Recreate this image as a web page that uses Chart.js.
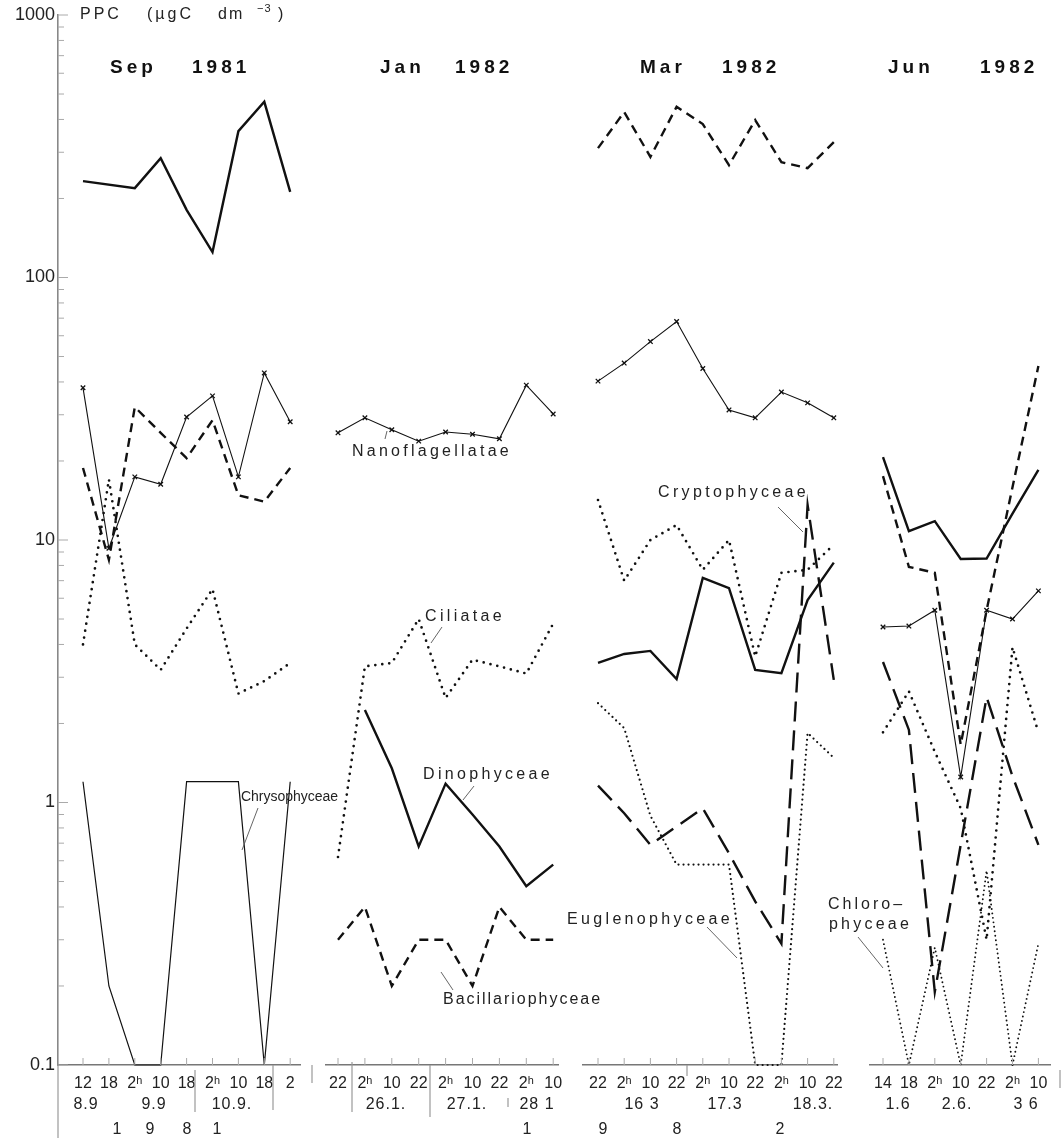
<!DOCTYPE html>
<html><head><meta charset="utf-8">
<script src="https://cdn.jsdelivr.net/npm/chart.js@4.4.1/dist/chart.umd.min.js"></script>
<style>
html,body{margin:0;padding:0;background:#fff;}
#wrap{position:relative;width:1063px;height:1141px;overflow:hidden;background:#fff;}
canvas{position:absolute;top:0;left:0;display:block;}
</style></head><body><div id="wrap">
<canvas id="c0" width="1063" height="1141"></canvas>
<canvas id="c1" width="1063" height="1141"></canvas>
<canvas id="c2" width="1063" height="1141"></canvas>
<canvas id="c3" width="1063" height="1141"></canvas>
</div>
<script>
// ---------- DATA (PPC, µgC dm-3) ----------
const sepLabels = ['12','18','2ʰ','10','18','2ʰ','10','18','2'];
const sepSolid   = [233, null, 219, 285, 181, 125, 361, 467, 212];
const sepNano    = [38, 9.3, 17.4, 16.3, 29.4, 35.4, 17.4, 43.3, 28.2];
const sepDash    = [18.8, 8.4, 32.1, 25.6, 20.5, 28.6, 14.8, 14.0, 18.8];
const sepCiliat  = [4.0, 17, 4.0, 3.2, 4.6, 6.5, 2.6, 2.9, 3.4];
const sepChryso  = [1.2, 0.2, 0.1, 0.1, 1.2, 1.2, 1.2, 0.1, 1.2];

const janLabels = ['22','2ʰ','10','22','2ʰ','10','22','2ʰ','10'];
const janNano    = [25.6, 29.2, 26.3, 23.8, 25.8, 25.3, 24.3, 38.9, 30.2];
const janCiliat  = [0.62, 3.3, 3.4, 5.0, 2.5, 3.5, 3.3, 3.1, 4.8];
const janDino    = [null, 2.25, 1.35, 0.68, 1.18, 0.9, 0.68, 0.48, 0.58];
const janBacil   = [0.3, 0.4, 0.2, 0.3, 0.3, 0.2, 0.4, 0.3, 0.3];

const marLabels = ['22','2ʰ','10','22','2ʰ','10','22','2ʰ','10','22'];
const marBacil   = [311, 427, 288, 447, 384, 268, 398, 275, 261, 328];
const marNano    = [40.3, 47.2, 57, 68, 45, 31.3, 29.2, 36.6, 33.3, 29.2];
const marCiliat  = [14.2, 7.0, 10, 11.4, 7.7, 10, 3.6, 7.5, 7.7, 9.6];
const marDino    = [3.4, 3.68, 3.78, 2.95, 7.17, 6.56, 3.2, 3.11, 5.9, 8.2];
const marCrypto  = [1.16, 0.91, 0.69, 0.81, 0.95, 0.64, 0.42, 0.29, 13.6, 2.93];
const marEugl    = [2.39, 1.92, 0.89, 0.58, 0.58, 0.58, 0.1, 0.1, 1.84, 1.48];

const junLabels = ['14','18','2ʰ','10','22','2ʰ','10'];
const junDino    = [20.7, 10.8, 11.8, 8.47, 8.5, 12.6, 18.5];
const junBacil   = [17.5, 7.9, 7.5, 1.66, 5.4, 15.9, 46];
const junNano    = [4.66, 4.7, 5.4, 1.25, 5.4, 5.0, 6.4];
const junCrypto  = [3.43, 1.89, 0.19, 0.69, 2.52, 1.26, 0.69];
const junCiliat  = [1.85, 2.65, 1.56, 0.95, 0.3, 3.9, 1.85];
const junChloro  = [0.3, 0.1, 0.28, 0.1, 0.55, 0.1, 0.29];

const yMajor = [0.1, 1, 10, 100, 1000];

// ---------- STYLES ----------
const FONT = '"Liberation Sans", Arial, Helvetica, sans-serif';
const INK = '#111';
const W = 1063;
const ST = {
  solid: {borderWidth:2.4},
  thin:  {borderWidth:1.2},
  nano:  {borderWidth:1.1, pointRadius:3.2, pointStyle:'crossRot', pointBorderWidth:1.3},
  dash:  {borderWidth:2.4, borderDash:[9,6]},
  long:  {borderWidth:2.4, borderDash:[20,9]},
  dot:   {borderWidth:2.7, borderDash:[0,7], borderCapStyle:'round'},
  fine:  {borderWidth:2.2, borderDash:[0,5], borderCapStyle:'round'},
  chl:   {borderWidth:1.9, borderDash:[0,4.5], borderCapStyle:'round'}
};

// notes: text, left x, right x (fitted width), centre y, font size, leader line
const panels = [
  {id:'c0', L:58,  R:300,  P0:83,  d:25.9, labels:sepLabels, yaxis:true,
   series:[[sepSolid,'solid'],[sepNano,'nano'],[sepDash,'dash'],[sepCiliat,'dot'],[sepChryso,'thin']],
   title:[['Sep',110],['1981',192]],
   dates:[['8.9',86],['9.9',154],['10.9.',232]],
   year:[['1',117],['9',150],['8',187],['1',217]],
   seps:[[58,1065,1138],[195,1070,1112],[273,1065,1110],[312,1065,1083]],
   notes:[{t:'Chrysophyceae',x:241,x2:338,y:797,fs:14,l:[258,808,242,850]}]},
  {id:'c1', L:326, R:558,  P0:338, d:26.9, labels:janLabels,
   series:[[janNano,'nano'],[janCiliat,'dot'],[janDino,'solid'],[janBacil,'dash']],
   title:[['Jan',380],['1982',455]],
   dates:[['26.1.',386],['27.1.',467],['28 1',537]],
   year:[['1',527]],
   seps:[[352,1062,1112],[430,1065,1117],[508,1098,1107]],
   notes:[{t:'Nanoflagellatae',x:352,x2:512,y:452,l:[387,431,385,439]},
          {t:'Ciliatae',x:425,x2:505,y:617,l:[442,627,431,643]},
          {t:'Dinophyceae',x:423,x2:553,y:775,l:[474,786,463,800]},
          {t:'Bacillariophyceae',x:443,x2:602,y:1000,l:[453,990,441,972]}]},
  {id:'c2', L:583, R:837,  P0:598, d:26.2, labels:marLabels,
   series:[[marBacil,'dash'],[marNano,'nano'],[marCiliat,'dot'],[marDino,'solid'],[marCrypto,'long'],[marEugl,'fine']],
   title:[['Mar',640],['1982',722]],
   dates:[['16 3',642],['17.3',725],['18.3.',813]],
   year:[['9',603],['8',677],['2',780]],
   seps:[[687,1065,1076]],
   notes:[{t:'Cryptophyceae',x:658,x2:809,y:493,l:[778,507,803,532]},
          {t:'Euglenophyceae',x:567,x2:733,y:920,l:[707,927,737,958]}]},
  {id:'c3', L:870, R:1050, P0:883, d:25.9, labels:junLabels,
   series:[[junDino,'solid'],[junBacil,'dash'],[junNano,'nano'],[junCrypto,'long'],[junCiliat,'dot'],[junChloro,'chl']],
   title:[['Jun',888],['1982',980]],
   dates:[['1.6',898],['2.6.',957],['3 6',1026]],
   year:[],
   seps:[[1060,1070,1088]],
   notes:[{t:'Chloro–',x:828,x2:905,y:905},{t:'phyceae',x:829,x2:912,y:925,l:[858,937,883,968]}]}
];

function line(ctx,x1,y1,x2,y2){ctx.beginPath();ctx.moveTo(x1,y1);ctx.lineTo(x2,y2);ctx.stroke();}
function setSp(ctx,sp){try{ctx.letterSpacing=sp;}catch(e){}}
function txt(ctx,s,x,y,font,align,sp){ctx.font=font;ctx.textAlign=align||'left';ctx.textBaseline='middle';
  setSp(ctx,sp||'0px'); ctx.fillText(s,x,y);}
function fitTxt(ctx,s,x,x2,y,font){
  ctx.font=font; ctx.textAlign='left'; ctx.textBaseline='middle'; setSp(ctx,'0px');
  const w = ctx.measureText(s).width;
  const sp = Math.max(-0.3,(x2-x-w)/s.length);
  setSp(ctx, sp.toFixed(2)+'px'); ctx.fillText(s,x,y); setSp(ctx,'0px');
}

const decor = {
  id:'decor',
  afterDraw(chart, args, o){
    const ctx = chart.ctx, ca = chart.chartArea, xs = chart.scales.x, ys = chart.scales.y;
    const p = o.p;
    ctx.save();
    ctx.strokeStyle = '#aaa'; ctx.lineWidth = 1;
    p.labels.forEach((_,i)=>{const px = xs.getPixelForValue(i); line(ctx,px,ca.bottom,px,ca.bottom-7);});
    if (p.yaxis){
      for (let k=-1;k<=3;k++){
        for (let m=1;m<=9;m++){
          const v = m*Math.pow(10,k); if (v>1000.0001) break;
          const py = ys.getPixelForValue(v);
          line(ctx, ca.left, py, ca.left+(m===1?10:6), py);
        }
      }
      ctx.fillStyle = '#222';
      txt(ctx,'PPC',80,15,'16px '+FONT,'left','3px');
      txt(ctx,'(µgC',147,15,'16px '+FONT,'left','3px');
      txt(ctx,'dm',218,15,'16px '+FONT,'left','2px');
      txt(ctx,'−3',257,9,'11px '+FONT,'left','1px');
      txt(ctx,')',278,15,'16px '+FONT,'left','0px');
    }
    ctx.fillStyle = INK;
    p.title.forEach(([s,x])=>txt(ctx,s,x,68,'bold 19px '+FONT,'left','4px'));
    ctx.fillStyle = '#222';
    p.dates.forEach(([s,x])=>txt(ctx,s,x,1105,'16px '+FONT,'center','1px'));
    p.year.forEach(([s,x])=>txt(ctx,s,x,1130,'16px '+FONT,'center','0px'));
    ctx.strokeStyle = '#999'; ctx.lineWidth = 1.2;
    p.seps.forEach(([x,y0,y1])=>line(ctx,x,y0,x,y1));
    p.notes.forEach(n=>{
      ctx.fillStyle = '#222';
      fitTxt(ctx,n.t,n.x,n.x2,n.y,(n.fs||16)+'px '+FONT);
      if (n.l){ctx.strokeStyle='#555';ctx.lineWidth=0.9;line(ctx,n.l[0],n.l[1],n.l[2],n.l[3]);}
    });
    ctx.restore();
  }
};

panels.forEach(p=>{
  const datasets = p.series.map(([vals,st])=>Object.assign({
    data: vals.map((v,i)=>({x:i,y:v})),
    borderColor: INK, backgroundColor: INK, pointRadius:0, tension:0, spanGaps:true,
    fill:false, clip:6
  }, ST[st]));
  new Chart(document.getElementById(p.id), {
    type:'line',
    data:{datasets},
    options:{
      responsive:false, animation:false, devicePixelRatio:1,
      layout:{padding:{top:15, bottom:0, left: p.yaxis?0:p.L, right: W-p.R}},
      plugins:{legend:{display:false}, tooltip:{enabled:false}, decor:{p}},
      scales:{
        x:{type:'linear', min:-(p.P0-p.L)/p.d, max:(p.R-p.P0)/p.d,
           afterBuildTicks:s=>{s.ticks = p.labels.map((_,i)=>({value:i}));},
           ticks:{callback:v=>p.labels[v]!==undefined?p.labels[v]:'', autoSkip:false, maxRotation:0, minRotation:0,
                  padding:9, color:'#222', font:{family:FONT,size:16}},
           grid:{display:false, drawTicks:false},
           border:{display:true, color:'#777', width:1.6},
           afterFit:s=>{s.height=76; s.paddingLeft=0; s.paddingRight=0;}},
        y:{type:'logarithmic', min:0.1, max:1000, display:!!p.yaxis,
           afterBuildTicks:s=>{s.ticks = yMajor.map(v=>({value:v}));},
           ticks:{callback:v=>v<1?'0.1':String(Math.round(v)), autoSkip:false, padding:3, color:'#222', font:{family:FONT,size:18}},
           grid:{display:false, drawTicks:false},
           border:{display:true, color:'#888', width:1.6},
           afterFit:s=>{ if (p.yaxis) s.width=58; s.paddingTop=0; s.paddingBottom=0;}}
      }
    },
    plugins:[decor]
  });
});
</script></body></html>
